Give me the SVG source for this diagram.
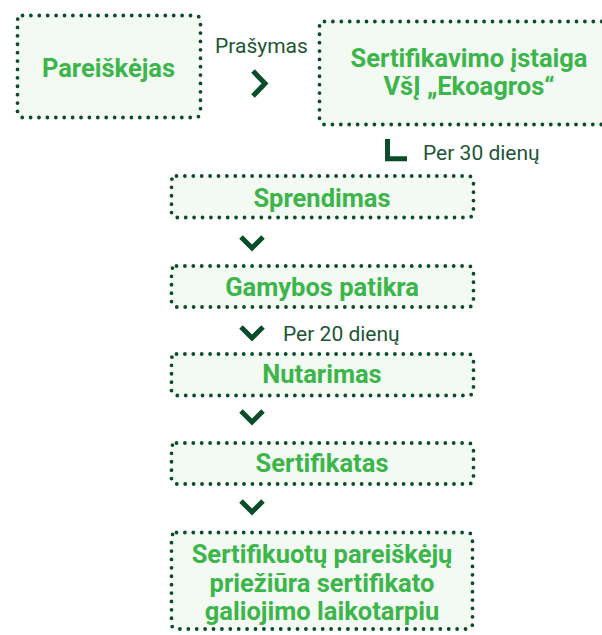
<svg xmlns="http://www.w3.org/2000/svg" xmlns:xlink="http://www.w3.org/1999/xlink" width="602" height="635" viewBox="0 0 602 635">
<style>
.box{fill:#f3f9f3;stroke:#0b4d2b;stroke-width:3.8;stroke-dasharray:0 8.4;stroke-linecap:round}
.t{font-family:Roboto,"Liberation Sans",sans-serif;font-weight:bold;font-size:25.5px;fill:#3cb54a;text-anchor:middle}
.lbl{font-family:Roboto,"Liberation Sans",sans-serif;font-size:21px;fill:#1c5634}
.chev{fill:none;stroke:#0b4d2b;stroke-width:5}
</style>
<defs>
<polyline id="down" class="chev" points="-11,-7 0,4 11,-7"/>
</defs>
<rect width="602" height="635" fill="#fff"/>
<g id="pareiskejas">
<rect class="box" x="17.5" y="15.5" width="183" height="102" rx="5"/>
<text class="t" x="108.5" y="77">Pareiškėjas</text>
</g>
<g id="istaiga">
<rect class="box" x="319.5" y="21.5" width="300" height="103" rx="5"/>
<text class="t" x="469" y="67">Sertifikavimo įstaiga</text>
<text class="t" x="469" y="95">VšĮ „Ekoagros“</text>
</g>
<g id="sprendimas">
<rect class="box" x="171.5" y="176" width="302" height="41.5" rx="5"/>
<text class="t" x="322" y="207">Sprendimas</text>
</g>
<g id="patikra">
<rect class="box" x="171.5" y="266" width="302" height="41" rx="5"/>
<text class="t" x="322" y="296">Gamybos patikra</text>
</g>
<g id="nutarimas">
<rect class="box" x="171.5" y="354" width="302" height="41.5" rx="5"/>
<text class="t" x="322" y="383">Nutarimas</text>
</g>
<g id="sertifikatas">
<rect class="box" x="171.5" y="443" width="302" height="41" rx="5"/>
<text class="t" x="322" y="472">Sertifikatas</text>
</g>
<g id="prieziura">
<rect class="box" x="171.5" y="532.5" width="301" height="96.5" rx="5"/>
<text class="t" x="322" y="563">Sertifikuotų pareiškėjų</text>
<text class="t" x="322" y="592">priežiūra sertifikato</text>
<text class="t" x="322" y="620">galiojimo laikotarpiu</text>
</g>
<g id="connectors">
<text class="lbl" x="215" y="53">Prašymas</text>
<polyline class="chev" points="253,71 265,83.5 253,96"/>
<polyline class="chev" stroke-width="4.5" points="387.5,139 387.5,158.8 407,158.8"/>
<text class="lbl" x="423" y="160">Per 30 dienų</text>
<use xlink:href="#down" x="252" y="244"/>
<use xlink:href="#down" x="252" y="334"/>
<text class="lbl" x="283" y="341">Per 20 dienų</text>
<use xlink:href="#down" x="252" y="418"/>
<use xlink:href="#down" x="252" y="508"/>
</g>
</svg>
